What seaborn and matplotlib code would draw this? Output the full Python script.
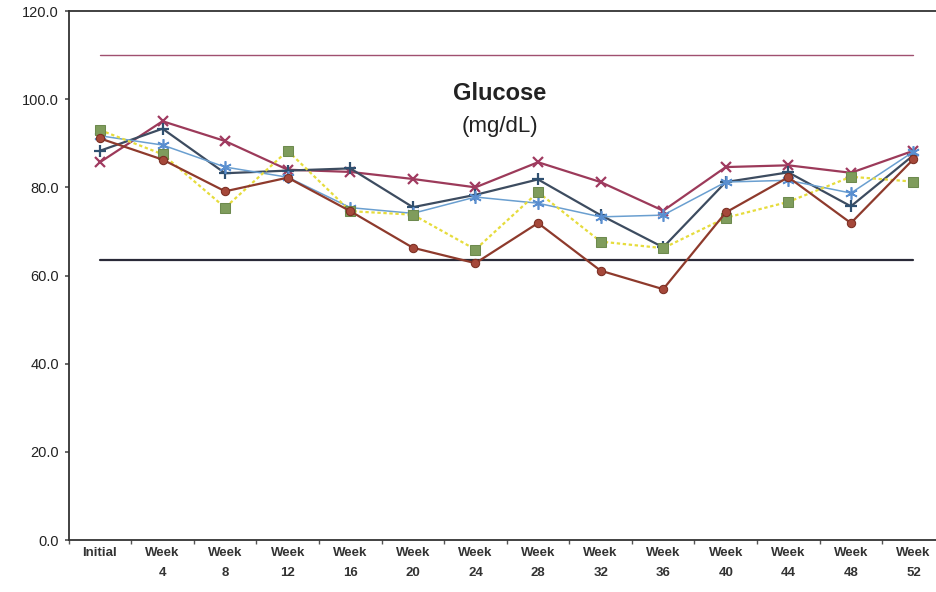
import matplotlib
matplotlib.use('Agg')
import matplotlib.pyplot as plt
import seaborn as sns
import numpy as np
import pandas as pd

# categorias do eixo x
categories = ['Initial', 'Week 4', 'Week 8', 'Week 12', 'Week 16', 'Week 20', 'Week 24',
              'Week 28', 'Week 32', 'Week 36', 'Week 40', 'Week 44', 'Week 48', 'Week 52']
tick_labels = ['Initial', 'Week\n4', 'Week\n8', 'Week\n12', 'Week\n16', 'Week\n20', 'Week\n24',
               'Week\n28', 'Week\n32', 'Week\n36', 'Week\n40', 'Week\n44', 'Week\n48', 'Week\n52']

# séries
serie_x = [85.7, 95.0, 90.5, 84.0, 83.5, 81.9, 80.0, 85.7, 81.2, 74.7, 84.6, 85.0, 83.3, 88.3]
serie_plus = [88.3, 93.3, 83.2, 83.8, 84.3, 75.5, 78.3, 81.8, 73.7, 66.4, 81.2, 83.4, 75.7, 87.3]
serie_star = [91.7, 89.6, 84.6, 82.3, 75.4, 74.1, 77.8, 76.4, 73.3, 73.7, 81.2, 81.6, 78.7, 88.1]
serie_square = [93.0, 87.5, 75.4, 88.3, 74.6, 73.8, 65.9, 78.9, 67.7, 66.2, 73.1, 76.7, 82.4, 81.3]
serie_circle = [91.1, 86.3, 79.1, 82.2, 74.6, 66.3, 62.8, 71.9, 61.1, 56.9, 74.3, 82.3, 71.9, 86.4]

upper_limit = 110.0
lower_limit = 63.5

y_ticks = [0, 20, 40, 60, 80, 100, 120]

sns.set_theme(style='white')
plt.rcParams['font.family'] = ['Liberation Sans', 'DejaVu Sans']

fig = plt.figure(figsize=(9.37, 5.92), dpi=100)
ax = fig.add_axes([0.0733, 0.0878, 0.935, 0.8936])

# linhas de referência
ax.plot([0, 13], [upper_limit, upper_limit], color='#a05070', lw=1.0, zorder=1)
ax.plot([0, 13], [lower_limit, lower_limit], color='#2a2a38', lw=1.6, zorder=1)

sns.lineplot(x=categories, y=serie_x, ax=ax, color='#9c3a5a', lw=1.6,
             marker='x', markersize=7, markeredgewidth=1.6,
             markeredgecolor='#a03a60', sort=False)
sns.lineplot(x=categories, y=serie_plus, ax=ax, color='#3d4c60', lw=1.6,
             marker='+', markersize=9, markeredgewidth=1.6,
             markeredgecolor='#2f5070', sort=False)
sns.lineplot(x=categories, y=serie_star, ax=ax, color='#6a9fd0', lw=1.1,
             marker=(6, 2, 0), markersize=9, markeredgewidth=1.2,
             markeredgecolor='#5a8fd0', sort=False)
sns.lineplot(x=categories, y=serie_square, ax=ax, color='#e6dc3c', lw=1.6,
             linestyle=(0, (1.5, 1.2)), marker='s', markersize=7,
             markerfacecolor='#7f9c5c', markeredgecolor='#6d8a4e', sort=False)
sns.lineplot(x=categories, y=serie_circle, ax=ax, color='#8e3a2c', lw=1.6,
             marker='o', markersize=6, markerfacecolor='#a5483a',
             markeredgecolor='#7a2e22', sort=False)

ax.set_xlim(-0.5, 13.5)
ax.set_ylim(0, 120)
ax.set_yticks(y_ticks)
ax.set_yticklabels([f'{v:.1f}' for v in y_ticks], fontsize=10.5, color='#222222')
ax.set_xticks(range(len(categories)))
ax.set_xticklabels(tick_labels, fontsize=9.5, fontweight='bold', color='#333333',
                   linespacing=1.85)
ax.set_xticks(np.arange(-0.5, 13.6, 1), minor=True)
ax.tick_params(axis='x', which='major', length=0, pad=5)
ax.tick_params(axis='x', which='minor', length=3, color='#555555', bottom=True)
ax.tick_params(axis='y', length=3, color='#555555', left=True, pad=4)
ax.set_xlabel('')
ax.set_ylabel('')

for side in ['left', 'bottom', 'top']:
    ax.spines[side].set_color('#333333')
    ax.spines[side].set_linewidth(1.3)
ax.spines['right'].set_visible(False)

fig.text(500 / 937, 1 - 93 / 592, 'Glucose', ha='center', va='center',
         fontsize=17, fontweight='bold', color='#222222')
fig.text(500 / 937, 1 - 127 / 592, '(mg/dL)', ha='center', va='center',
         fontsize=16, color='#222222')

plt.savefig('out.png', dpi=100)
